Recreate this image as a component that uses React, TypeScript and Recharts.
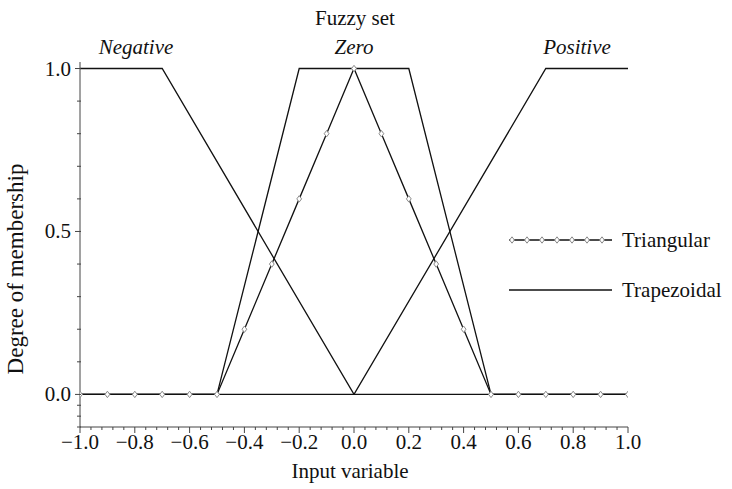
import React from 'react';
import { LineChart, Line, XAxis, YAxis } from 'recharts';

// Triangular membership function for the "Zero" set, sampled every 0.1
const triX = [-1.0, -0.9, -0.8, -0.7, -0.6, -0.5, -0.4, -0.3, -0.2, -0.1, 0.0, 0.1, 0.2, 0.3, 0.4, 0.5, 0.6, 0.7, 0.8, 0.9, 1.0];
const triY = [0, 0, 0, 0, 0, 0, 0.2, 0.4, 0.6, 0.8, 1.0, 0.8, 0.6, 0.4, 0.2, 0, 0, 0, 0, 0, 0];

// Trapezoidal membership functions: Negative, Zero, Positive
const negX = [-1.0, -0.7, 0.0, 1.0];
const negY = [1, 1, 0, 0];
const zeroX = [-1.0, -0.5, -0.2, 0.2, 0.5, 1.0];
const zeroY = [0, 0, 1, 1, 0, 0];
const posX = [-1.0, 0.0, 0.7, 1.0];
const posY = [0, 0, 1, 1];

// Axis ticks
const xMajorTicks = [-1.0, -0.8, -0.6, -0.4, -0.2, 0.0, 0.2, 0.4, 0.6, 0.8, 1.0];
const xMinorPerMajor = 5;
const yLabelTicks = [0.0, 0.5, 1.0];
const yMinorTicks = [-0.1, -0.0667, -0.0333, 0.1, 0.2, 0.3, 0.4, 0.6, 0.7, 0.8, 0.9];

const setNames = ['Negative', 'Zero', 'Positive'];
const setLabelX = [136, 354, 577];

const seriesNames = ['Triangular', 'Trapezoidal'];

const zip = (xs: number[], ys: number[]) => xs.map((x, i) => ({ x, y: ys[i] }));
const triData = zip(triX, triY);
const negData = zip(negX, negY);
const zeroData = zip(zeroX, zeroY);
const posData = zip(posX, posY);

// minor ticks on the x axis: subdivisions of each 0.2 interval
const xAllTicks: number[] = [];
for (let i = 0; i < xMajorTicks.length; i++) {
  xAllTicks.push(xMajorTicks[i]);
  if (i < xMajorTicks.length - 1) {
    const a = xMajorTicks[i];
    const b = xMajorTicks[i + 1];
    for (let k = 1; k < xMinorPerMajor; k++) {
      xAllTicks.push(+(a + ((b - a) * k) / xMinorPerMajor).toFixed(4));
    }
  }
}
const yAllTicks = [...yLabelTicks, ...yMinorTicks].sort((a, b) => a - b);

const FONT = '"Liberation Serif", "Times New Roman", serif';
const FS = 21;
const INK = '#111';
const AXIS = '#444';

const fmt = (v: number) => {
  const s = Math.abs(v).toFixed(1);
  return v < -1e-9 ? '\u2212' + s : s;
};

const isMajorX = (v: number) => xMajorTicks.some((m) => Math.abs(m - v) < 1e-6);
const isLabelY = (v: number) => yLabelTicks.some((m) => Math.abs(m - v) < 1e-6);

const XTick = (props: any) => {
  const { x, y, payload } = props;
  const major = isMajorX(payload.value);
  return (
    <g>
      <line x1={x} x2={x} y1={y} y2={y + (major ? 6 : 3)} stroke={AXIS} strokeWidth={1} />
      {major && (
        <text x={x} y={y + 22} textAnchor="middle" fontFamily={FONT} fontSize={FS} fill={INK}>
          {fmt(payload.value)}
        </text>
      )}
    </g>
  );
};

const YTick = (props: any) => {
  const { x, y, payload } = props;
  const lab = isLabelY(payload.value);
  return (
    <g>
      <line x1={x - (lab ? 5 : 3)} x2={x + 1} y1={y} y2={y} stroke={AXIS} strokeWidth={1} />
      {lab && (
        <text x={x - 9} y={y + 7} textAnchor="end" fontFamily={FONT} fontSize={FS} fill={INK}>
          {fmt(payload.value)}
        </text>
      )}
    </g>
  );
};

const Diamond = (props: any) => {
  const { cx, cy, index } = props;
  if (cx == null || cy == null) return <g key={`d-${index}`} />;
  return (
    <polygon
      key={`d-${index}`}
      points={`${cx},${cy - 3.2} ${cx + 2.4},${cy} ${cx},${cy + 3.2} ${cx - 2.4},${cy}`}
      fill="#fff"
      stroke="#8a8a8a"
      strokeWidth={1}
    />
  );
};

const LegendBox = () => {
  const x0 = 509;
  const x1 = 612;
  const rows = [240, 290];
  const marks = [512, 527, 542, 557, 572, 587, 602];
  return (
    <svg width={732} height={489} style={{ position: 'absolute', left: 0, top: 0 }}>
      <line x1={x0} x2={x1} y1={rows[0]} y2={rows[0]} stroke={INK} strokeWidth={1.4} />
      {marks.map((m) => (
        <Diamond key={m} cx={m} cy={rows[0]} index={m} />
      ))}
      <text x={622} y={rows[0] + 7} fontFamily={FONT} fontSize={FS} fill={INK}>
        {seriesNames[0]}
      </text>
      <line x1={x0} x2={x1} y1={rows[1]} y2={rows[1]} stroke={INK} strokeWidth={1.4} />
      <text x={622} y={rows[1] + 7} fontFamily={FONT} fontSize={FS} fill={INK}>
        {seriesNames[1]}
      </text>
    </svg>
  );
};

export default function App() {
  return (
    <div
      style={{
        position: 'absolute',
        left: 0,
        top: 0,
        width: 732,
        height: 489,
        background: '#fff',
        fontFamily: FONT,
      }}
    >
      <LineChart width={732} height={489} margin={{ top: 62, right: 104, bottom: 0, left: 0 }}>
        <XAxis
          dataKey="x"
          type="number"
          domain={[-1, 1]}
          ticks={xAllTicks}
          interval={0}
          allowDataOverflow
          height={62}
          stroke={AXIS}
          tickLine={false}
          tickSize={0}
          tickMargin={0}
          tick={<XTick />}
        />
        <YAxis
          type="number"
          domain={[-0.1, 1.02]}
          ticks={yAllTicks}
          interval={0}
          allowDataOverflow
          width={80}
          stroke={AXIS}
          tickLine={false}
          tickSize={0}
          tickMargin={0}
          tick={<YTick />}
        />
        <Line data={negData} dataKey="y" stroke={INK} strokeWidth={1.3} dot={false} isAnimationActive={false} />
        <Line data={zeroData} dataKey="y" stroke={INK} strokeWidth={1.3} dot={false} isAnimationActive={false} />
        <Line data={posData} dataKey="y" stroke={INK} strokeWidth={1.3} dot={false} isAnimationActive={false} />
        <Line data={triData} dataKey="y" stroke={INK} strokeWidth={1.3} dot={<Diamond />} isAnimationActive={false} />
      </LineChart>
      <LegendBox />
      <svg width={732} height={489} style={{ position: 'absolute', left: 0, top: 0, pointerEvents: 'none' }}>
        <text x={355} y={25} textAnchor="middle" fontFamily={FONT} fontSize={FS} fill={INK}>
          Fuzzy set
        </text>
        {setNames.map((n, i) => (
          <text key={n} x={setLabelX[i]} y={54} textAnchor="middle" fontFamily={FONT} fontStyle="italic" fontSize={FS} fill={INK}>
            {n}
          </text>
        ))}
        <text x={350} y={478} textAnchor="middle" fontFamily={FONT} fontSize={FS} fill={INK}>
          Input variable
        </text>
        <text
          x={23}
          y={269}
          textAnchor="middle"
          fontFamily={FONT}
          fontSize={23}
          fill={INK}
          transform="rotate(-90 23 269)"
        >
          Degree of membership
        </text>
      </svg>
    </div>
  );
}
